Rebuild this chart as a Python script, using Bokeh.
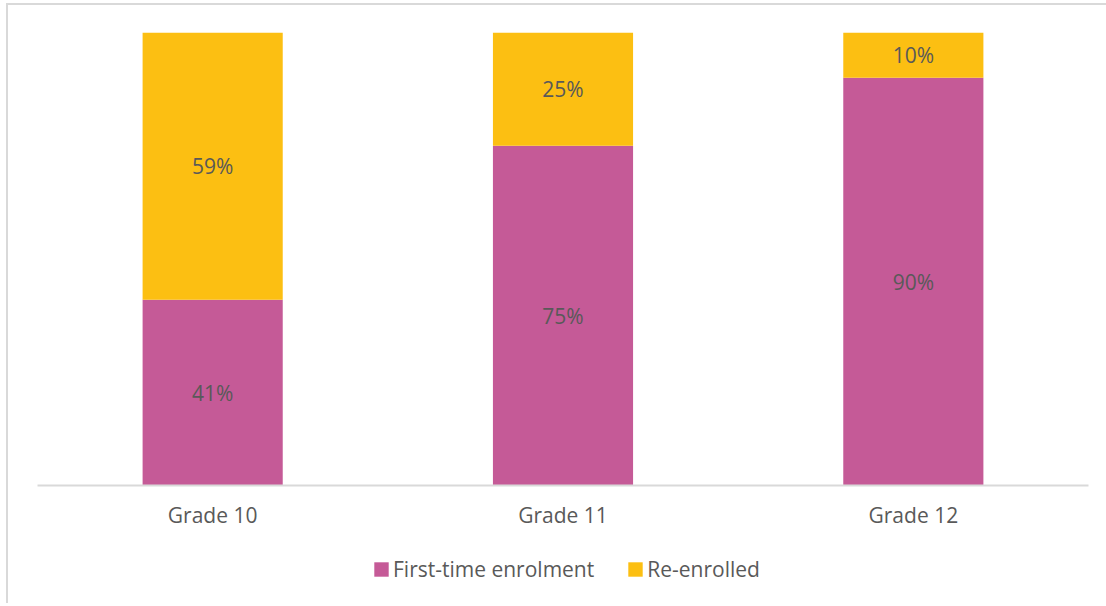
from bokeh.plotting import figure
from bokeh.layouts import column
from bokeh.models import ColumnDataSource, LabelSet, Legend, LegendItem, Range1d
from bokeh.core.properties import value
from bokeh.embed import file_html
from bokeh.resources import INLINE

grades = ["Grade 10", "Grade 11", "Grade 12"]
first_time = [0.41, 0.75, 0.90]
re_enrolled = [0.59, 0.25, 0.10]
series_names = ["First-time enrolment", "Re-enrolled"]
colors = ["#C55A97", "#FCBF12"]

FONT = "Open Sans"
TXT = "#595959"

src = ColumnDataSource(dict(
    grade=grades,
    first=first_time,
    re=re_enrolled,
    first_mid=[v / 2 for v in first_time],
    re_mid=[a + b / 2 for a, b in zip(first_time, re_enrolled)],
    first_lbl=[f"{round(v*100)}%" for v in first_time],
    re_lbl=[f"{round(v*100)}%" for v in re_enrolled],
))

W = 1098
p = figure(x_range=grades, y_range=(0, 1), width=W, height=530,
           output_backend="svg", toolbar_location=None,
           min_border_left=29, min_border_top=27, min_border_right=18,
           min_border_bottom=50)

p.vbar_stack(["first", "re"], x="grade", width=0.4, color=colors,
             line_color=None, source=src)

for y, t in (("first_mid", "first_lbl"), ("re_mid", "re_lbl")):
    p.add_layout(LabelSet(x="grade", y=y, text=t, source=src,
                          text_align="center", text_baseline="middle",
                          text_font=value(FONT), text_font_size="21px",
                          text_color=TXT))

p.yaxis.visible = False
p.xgrid.grid_line_color = None
p.ygrid.grid_line_color = None
p.outline_line_color = None
p.xaxis.axis_line_color = "#D9D9D9"
p.xaxis.axis_line_width = 2
p.xaxis.major_tick_line_color = None
p.xaxis.minor_tick_line_color = None
p.xaxis.major_tick_out = 0
p.xaxis.major_tick_in = 0
p.xaxis.major_label_text_font = FONT
p.xaxis.major_label_text_font_size = "21px"
p.xaxis.major_label_text_color = TXT
p.xaxis.major_label_standoff = 15
p.x_range.range_padding = 0

# legend-only strip (legend glyphs from swatches kept outside the visible range)
lp = figure(width=W, height=68, output_backend="svg", toolbar_location=None,
            x_range=Range1d(0, 1), y_range=Range1d(0, 1),
            min_border=0)
lp.axis.visible = False
lp.grid.grid_line_color = None
lp.outline_line_color = None
lr = [lp.quad(left=[5], right=[6], bottom=[5], top=[6],
              fill_color=c, line_color=None) for c in colors]
legend = Legend(items=[LegendItem(label=series_names[i], renderers=[lr[i]]) for i in range(2)],
                orientation="horizontal", location=(335, 20),
                glyph_width=18, glyph_height=18, label_standoff=3, spacing=32,
                label_text_font=FONT, label_text_font_size="21px", label_text_color=TXT,
                border_line_color=None, background_fill_alpha=0, padding=0, margin=0)
lp.add_layout(legend, "center")

layout = column(p, lp, spacing=0)
layout.styles = {"margin-left": "6px", "margin-top": "3px",
                 "border-left": "2px solid #D9D9D9", "border-top": "2px solid #D9D9D9"}

open("out.html", "w").write(file_html(layout, INLINE))
